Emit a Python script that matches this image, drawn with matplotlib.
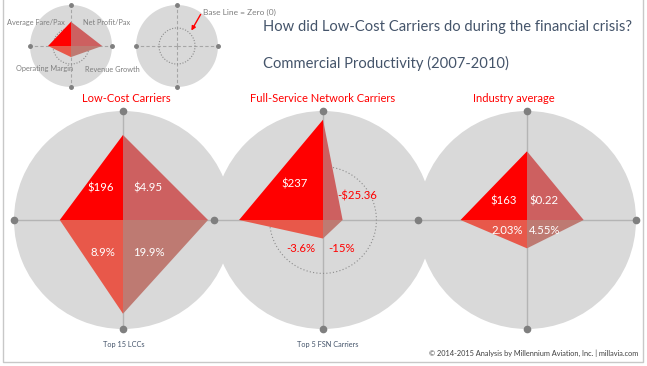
import numpy as np
import matplotlib
matplotlib.use("Agg")
import matplotlib.pyplot as plt

plt.rcParams['font.family'] = ['Lato', 'DejaVu Sans']

W, H = 647, 366

# ---- data ----
metrics = ["Average Fare/Pax", "Net Profit/Pax", "Operating Margin", "Revenue Growth"]
panel_titles = ["Low-Cost Carriers", "Full-Service Network Carriers", "Industry average"]
panel_notes = ["Top 15 LCCs", "Top 5 FSN Carriers", ""]

# values shown in each quadrant (UL, UR, LL, LR)
lcc_labels = ["$196", "$4.95", "8.9%", "19.9%"]
fsn_labels = ["$237", "-$25.36", "-3.6%", "-15%"]
ind_labels = ["$163", "$0.22", "2.03%", "4.55%"]

# reach of the shape on each spoke (top, right, bottom, left), outer ring = 1
lcc_reach = [0.78, 0.78, 0.86, 0.58]
fsn_reach = [0.92, 0.18, 0.17, 0.77]
ind_reach = [0.63, 0.52, 0.26, 0.61]
legend_reach = [0.59, 0.76, 0.27, 0.56]
zero_ring = 0.49

# ---- style / layout ----
GREY_BG = "#D9D9D9"
SPOKE = "#B4B4B4"
DOT = "#7F7F7F"
TEXT2 = "#44546A"
quad_colors = ["#FF0000", "#CD6060", "#E8584A", "#BE7A72"]
spoke_theta = [0, np.pi / 2, np.pi, 3 * np.pi / 2]   # top, right, bottom, left
quad_spokes = [(0, 3), (0, 1), (3, 2), (1, 2)]       # UL, UR, LL, LR

centers = [(123, 220), (323, 220), (527, 220)]
R = 109
label_offsets = [
    [(-22, 32), (25, 32), (-20, -32), (26, -32)],
    [(-28, 36), (34, 24), (-22, -28), (19, -28)],
    [(-23, 19), (17, 19), (-20, -11), (18, -11)],
]


def px(x, y):
    return x / W, 1 - y / H


def radar_axes(fig, cx, cy, r):
    ax = fig.add_axes([(cx - r) / W, (H - cy - r) / H, 2 * r / W, 2 * r / H],
                      projection="polar")
    ax.set_theta_zero_location("N")
    ax.set_theta_direction(-1)
    ax.set_ylim(0, 1)
    ax.set_facecolor(GREY_BG)
    ax.spines["polar"].set_visible(False)
    ax.set_xticks([])
    ax.set_yticks([])
    ax.grid(False)
    return ax


def draw_shape(ax, reach):
    for (a, b), c in zip(quad_spokes, quad_colors):
        ax.fill([0, spoke_theta[a], spoke_theta[b]], [0, reach[a], reach[b]],
                color=c, lw=0, zorder=3)


fig = plt.figure(figsize=(W / 100, H / 100), dpi=100)

# ---- main panels ----
all_reach = [lcc_reach, fsn_reach, ind_reach]
all_labels = [lcc_labels, fsn_labels, ind_labels]
for i, (cx, cy) in enumerate(centers):
    ax = radar_axes(fig, cx, cy, R)
    for t in spoke_theta:
        ax.plot([t, t], [0, 1], color=SPOKE, lw=1, zorder=1)
        ax.plot([t], [1], "o", color=DOT, ms=4.5, clip_on=False, zorder=5)
    if i == 1:
        ring = np.linspace(0, 2 * np.pi, 200)
        ax.plot(ring, np.full_like(ring, zero_ring), color="#8C8C8C",
                lw=0.8, ls=(0, (1, 2)), zorder=2)
    draw_shape(ax, all_reach[i])
    for lab, (dx, dy) in zip(all_labels[i], label_offsets[i]):
        col = "#FF0000" if lab.startswith("-") else "white"
        ax.text(0.5 + dx / (2 * R), 0.5 + dy / (2 * R), lab, transform=ax.transAxes,
                ha="center", va="center", fontsize=8.2, color=col, zorder=6)

# ---- legend minis ----
leg = radar_axes(fig, 71, 46, 41)
base = radar_axes(fig, 177, 46, 41)
ring = np.linspace(0, 2 * np.pi, 200)
for ax in (leg, base):
    for t in spoke_theta:
        ax.plot([t, t], [0, 1], color="#A6A6A6", lw=0.8, ls=(0, (3, 2)), zorder=1)
        ax.plot([t], [1], "o", color=DOT, ms=2.5, clip_on=False, zorder=5)
    ax.plot(ring, np.full_like(ring, 0.44), color="#8C8C8C", lw=0.8,
            ls=(0, (1, 1.5)), zorder=2)
draw_shape(leg, legend_reach)

small = dict(fontsize=5.3, color="#7F7F7F")
fig.text(*px(65, 22.5), metrics[0], ha="right", va="center", **small)
fig.text(*px(83, 22.5), metrics[1], ha="left", va="center", **small)
fig.text(*px(73, 69), metrics[2], ha="right", va="center", **small)
fig.text(*px(85, 69), metrics[3], ha="left", va="center", **small)
fig.text(*px(203, 12), "Base Line = Zero (0)", ha="left", va="center",
         fontsize=6, color="#7F7F7F")
fig.add_artist(plt.Annotation("", xy=px(190, 33), xytext=px(202, 12),
                              xycoords="figure fraction", textcoords="figure fraction",
                              arrowprops=dict(arrowstyle="-|>", color="#FF0000", lw=1,
                                              mutation_scale=6)))

# ---- titles ----
fig.text(*px(263, 27), "How did Low-Cost Carriers do during the financial crisis?",
         ha="left", va="center", fontsize=10.6, color=TEXT2)
fig.text(*px(263, 63), "Commercial Productivity (2007-2010)",
         ha="left", va="center", fontsize=10.6, color=TEXT2)

subtitle_x = [126, 323, 514]
for x, t in zip(subtitle_x, panel_titles):
    fig.text(*px(x, 98), t, ha="center", va="center", fontsize=8, color="#FF0000")
note_x = [124, 328, 527]
for x, t in zip(note_x, panel_notes):
    fig.text(*px(x, 345), t, ha="center", va="center", fontsize=5.3, color=TEXT2)

fig.text(*px(638, 353), "\u00a9 2014-2015 Analysis by Millennium Aviation, Inc. | millavia.com",
         ha="right", va="center", fontsize=5.3, color="#404040")

# frame
fig.add_artist(plt.Line2D([2.5 / W, 2.5 / W, 642.5 / W, 642.5 / W],
                          [1.01, 1 - 362 / H, 1 - 362 / H, 1.01],
                          transform=fig.transFigure, color="#C8C8C8", lw=1))

fig.savefig("out.png", dpi=100)
